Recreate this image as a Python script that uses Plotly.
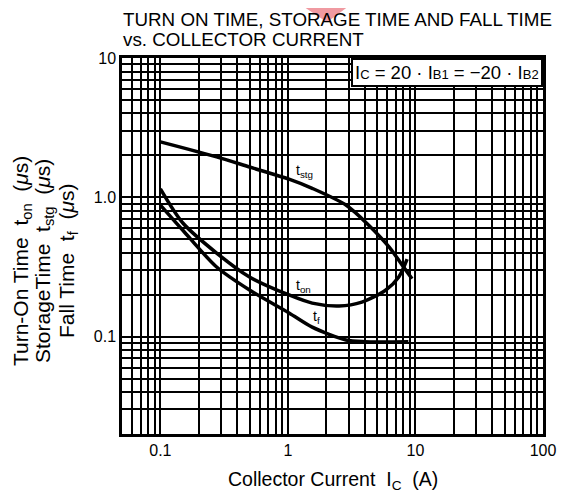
import math
import plotly.graph_objects as go

# ---- data ----
x_stg = [0.1, 0.276, 0.5, 1.02, 1.55, 2.85, 4.3, 6.2, 8.4, 9.4]
t_stg = [2.5, 1.95, 1.65, 1.35, 1.16, 0.88, 0.63, 0.44, 0.30, 0.26]

x_on = [0.1, 0.15, 0.276, 0.5, 1.02, 1.55, 2.52, 3.8, 5.86, 7.4, 8.6]
t_on = [1.15, 0.654, 0.398, 0.268, 0.199, 0.174, 0.166, 0.177, 0.216, 0.268, 0.36]

x_f = [0.1, 0.15, 0.276, 0.5, 1.02, 1.55, 2.85, 4.0, 8.8]
t_f = [0.88, 0.58, 0.316, 0.216, 0.148, 0.117, 0.0946, 0.092, 0.092]

curve_labels = ["t<sub>stg</sub>", "t<sub>on</sub>", "t<sub>f</sub>"]
label_x = [1.36, 1.33, 1.69]
label_y = [1.55, 0.232, 0.138]

x_ticks = [0.1, 1, 10, 100]
x_tick_text = ["0.1", "1", "10", "100"]
y_ticks = [0.1, 1, 10]
y_tick_text = ["0.1", "1.0", "10"]

FONT = "Arial, Liberation Sans, Helvetica, sans-serif"

fig = go.Figure()
for xs, ys in [(x_stg, t_stg), (x_on, t_on), (x_f, t_f)]:
    fig.add_trace(go.Scatter(x=xs, y=ys, mode="lines",
                             line=dict(color="black", width=3.5, shape="spline", smoothing=0.8),
                             showlegend=False, hoverinfo="skip"))

# curve labels (log axes -> annotation positions in log10 units)
for txt, x, y in zip(curve_labels, label_x, label_y):
    fig.add_annotation(x=math.log10(x), y=math.log10(y), xref="x", yref="y", text=txt,
                       showarrow=False, font=dict(family=FONT, size=14, color="black"),
                       borderpad=0)

axis_common = dict(type="log", showline=True, linecolor="black", linewidth=2.5, mirror=True,
                   showgrid=True, gridcolor="black", gridwidth=2, zeroline=False, ticks="",
                   tickfont=dict(family=FONT, size=16, color="black"))

fig.update_xaxes(**axis_common, range=[-1.301, 2], tickvals=x_ticks, ticktext=x_tick_text,
                 minor=dict(dtick="D1", showgrid=True, gridcolor="black", gridwidth=1.5, ticks=""))
fig.update_yaxes(**axis_common, range=[-1.699, 1], tickvals=y_ticks, ticktext=y_tick_text,
                 minor=dict(dtick="D1", showgrid=True, gridcolor="black", gridwidth=1.5, ticks=""))

# condition box
sub = '<span style="font-size:13px">{}</span>'
fig.add_annotation(xref="paper", yref="paper", x=1, y=1, xanchor="right", yanchor="top",
                   text="I" + sub.format("C") + " = 20 · I" + sub.format("B1")
                        + " = −20 · I" + sub.format("B2"),
                   showarrow=False, bgcolor="white", bordercolor="black", borderwidth=2,
                   borderpad=2, font=dict(family=FONT, size=18.5, color="black"))

# title (two lines)
for txt, ys in [("TURN ON TIME, STORAGE TIME AND FALL TIME", 39), ("vs. COLLECTOR CURRENT", 19)]:
    fig.add_annotation(xref="paper", yref="paper", x=0.0, y=1.0, xanchor="left", yanchor="middle",
                       yshift=ys, text=txt, showarrow=False, borderpad=0,
                       font=dict(family=FONT, size=18.8, color="black"))

# axis titles
fig.add_annotation(xref="paper", yref="paper", x=0.5, y=0, yshift=-46, yanchor="middle",
                   text="Collector Current  I<sub>C</sub>  (A)", showarrow=False,
                   font=dict(family=FONT, size=19.5, color="black"))
for txt, xs in [("Turn-On Time  t<sub>on</sub>  (<i>μ</i>s)", -100),
                ("StorageTime  t<sub>stg</sub>  (<i>μ</i>s)", -78),
                ("Fall Time  t<sub>f</sub>  (<i>μ</i>s)", -54)]:
    fig.add_annotation(xref="paper", yref="paper", x=0, xshift=xs, y=0.46, xanchor="center",
                       yanchor="middle", textangle=-90, text=txt, showarrow=False,
                       font=dict(family=FONT, size=21, color="black"))

# watermark triangle
fig.add_shape(type="path", xref="paper", yref="paper", layer="below",
              path="M 0.40,1.16 L 0.565,1.16 L 0.487,1.095 Z",
              fillcolor="rgba(235,120,130,0.75)", line=dict(width=0))

fig.update_layout(width=560, height=485, margin=dict(l=114, r=23, t=50, b=59),
                  paper_bgcolor="white", plot_bgcolor="white",
                  font=dict(family=FONT, color="black"))

fig.write_html("out.html")
